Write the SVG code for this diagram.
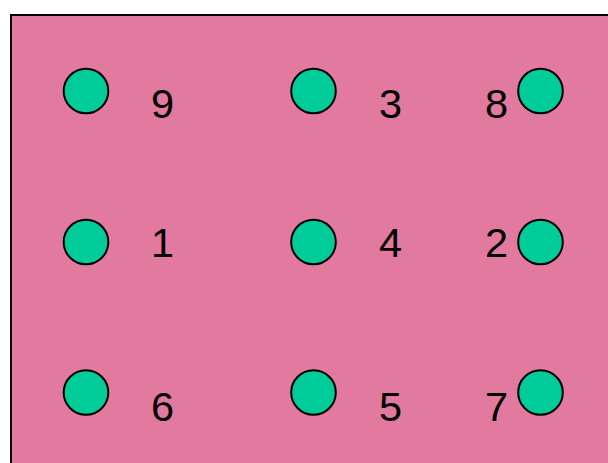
<svg xmlns="http://www.w3.org/2000/svg" width="608" height="463" viewBox="0 0 608 463">
<style>
.n{fill:#00CC99;stroke:#000;stroke-width:2}
.t{font-family:"Liberation Sans",Arial,sans-serif;font-size:41.5px;fill:#000;text-anchor:middle}
</style>
<rect x="0" y="0" width="608" height="463" fill="#fff"/>
<rect x="11" y="15" width="620" height="470" fill="#E2799E" stroke="#000" stroke-width="2"/>
<g id="connectors"></g>
<g id="n9"><circle class="n" cx="86" cy="91" r="22.3"/><text class="t" x="162.5" y="118">9</text></g>
<g id="n3"><circle class="n" cx="313.5" cy="91" r="22.3"/><text class="t" x="390.5" y="118">3</text></g>
<g id="n8"><circle class="n" cx="540.5" cy="91" r="22.3"/><text class="t" x="496.5" y="118">8</text></g>
<g id="n1"><circle class="n" cx="86" cy="242" r="22.3"/><text class="t" x="162.5" y="257">1</text></g>
<g id="n4"><circle class="n" cx="313.5" cy="242" r="22.3"/><text class="t" x="390.5" y="257">4</text></g>
<g id="n2"><circle class="n" cx="540.5" cy="242" r="22.3"/><text class="t" x="496.5" y="257">2</text></g>
<g id="n6"><circle class="n" cx="86" cy="392.5" r="22.3"/><text class="t" x="162.5" y="421">6</text></g>
<g id="n5"><circle class="n" cx="313.5" cy="392.5" r="22.3"/><text class="t" x="390.5" y="421">5</text></g>
<g id="n7"><circle class="n" cx="540.5" cy="392.5" r="22.3"/><text class="t" x="496.5" y="421">7</text></g>
</svg>
